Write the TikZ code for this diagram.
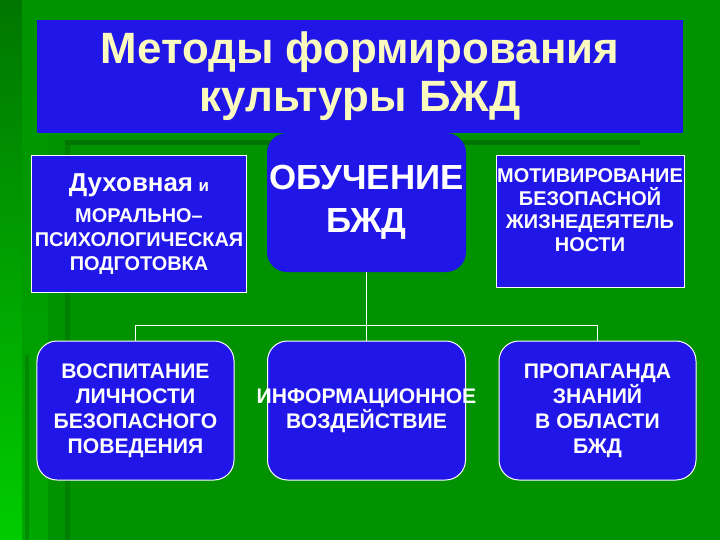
\documentclass[tikz,border=0pt]{standalone}
\usepackage{fontspec}
\setmainfont{Liberation Sans}
\definecolor{bgG}{RGB}{0,146,0}
\definecolor{bgDark}{RGB}{0,96,0}
\definecolor{bgTop}{RGB}{0,118,0}
\definecolor{bgLight}{RGB}{0,204,0}
\definecolor{bgMid}{RGB}{0,166,0}
\definecolor{boxB}{RGB}{32,22,232}
\definecolor{ttl}{RGB}{250,250,190}
\begin{document}
\begin{tikzpicture}[x=1bp,y=-1bp,
  rbox/.style={draw=white, line width=1bp, fill=boxB, rounded corners=20bp,
    text=white, align=center, minimum width=197bp, minimum height=139bp, inner sep=0pt,
    font=\fontsize{21.2}{25}\selectfont\bfseries},
  sbox/.style={draw=white, line width=1bp, fill=boxB, text=white, align=center, inner sep=0pt},
  conn/.style={draw=white, line width=1.6bp}]
\useasboundingbox (0,0) rectangle (720,540);
% background
\fill[bgG] (0,0) rectangle (720,540);
\shade[top color=bgTop, bottom color=bgLight] (0,0) rectangle (22,540);
\shade[top color=bgG, bottom color=bgMid] (22,0) rectangle (48,540);
\fill[bgDark, opacity=0.6] (65,140) rectangle (280,145);
\fill[bgDark, opacity=0.6] (463,140) rectangle (640,145);
\fill[bgDark, opacity=0.35] (65,145) rectangle (70,540);
\fill[bgDark, opacity=0.35] (25,355) rectangle (29,540);
% title
\node[fill=boxB, minimum width=646bp, minimum height=113bp, inner sep=0pt, text=ttl,
  font=\fontsize{44}{48}\selectfont\bfseries, align=center] (title) at (360,76.5)
  {Методы формирования\\культуры БЖД};
% top row
\node[sbox, minimum width=214bp, minimum height=136bp,
  font=\fontsize{20}{24}\selectfont\bfseries] (dux) at (139,224)
  {\rule{0pt}{8bp}{\fontsize{26}{24}\selectfont Духовная} {\fontsize{17}{24}\selectfont и}\\[7bp]
   МОРАЛЬНО–\\ПСИХОЛОГИЧЕСКАЯ\\ПОДГОТОВКА};
\node[fill=boxB, rounded corners=20bp, minimum width=199bp, minimum height=139bp,
  inner sep=0pt, text=white, align=center,
  font=\fontsize{35}{43}\selectfont\bfseries] (obuch) at (366.5,202.5)
  {ОБУЧЕНИЕ\\БЖД};
\node[sbox, minimum width=188bp, minimum height=131bp] (mot) at (590,221.5) {};
\node[text=white, align=center, inner sep=0pt,
  font=\fontsize{20}{23.3}\selectfont\bfseries] (motT) at (590,210)
  {МОТИВИРОВАНИЕ\\БЕЗОПАСНОЙ\\ЖИЗНЕДЕЯТЕЛЬ\\НОСТИ};
% bottom row
\node[rbox] (vosp) at (135.5,410.5)
  {ВОСПИТАНИЕ\\ЛИЧНОСТИ\\БЕЗОПАСНОГО\\ПОВЕДЕНИЯ};
\node[rbox, minimum width=198bp] (info) at (366.5,410.5)
  {\makebox[0pt]{ИНФОРМАЦИОННОЕ}\\ВОЗДЕЙСТВИЕ};
\node[rbox] (prop) at (597.5,410.5)
  {ПРОПАГАНДА\\ЗНАНИЙ\\В ОБЛАСТИ\\БЖД};
% connectors
\draw[conn] (obuch.south) -- (info.north);
\draw[conn] (vosp.north) -- ++(0,-15) -| (prop.north);
\end{tikzpicture}
\end{document}
